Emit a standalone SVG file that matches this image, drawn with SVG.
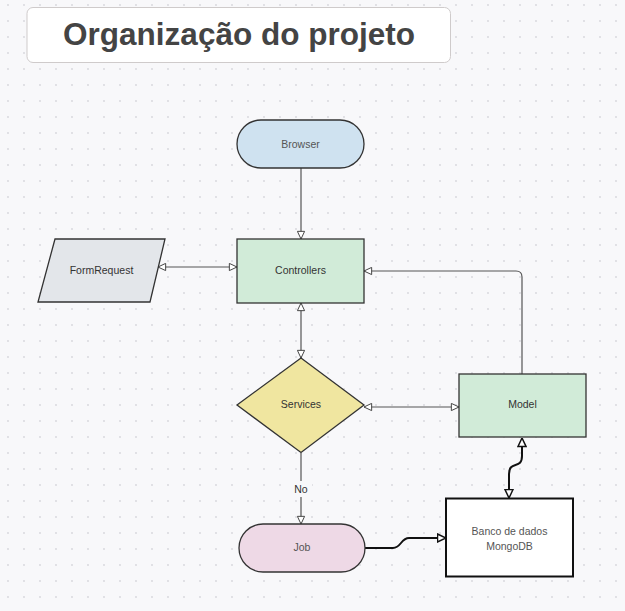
<svg xmlns="http://www.w3.org/2000/svg" width="625" height="611" viewBox="0 0 625 611">
<defs>
<pattern id="dots" patternUnits="userSpaceOnUse" x="0" y="0" width="16" height="16">
<circle cx="8" cy="5" r="0.9" fill="#d6d6dc"/>
</pattern>
<marker id="ah" markerUnits="userSpaceOnUse" viewBox="0 0 10 10" refX="9.5" refY="5" markerWidth="9" markerHeight="9" orient="auto-start-reverse">
<path d="M1,1 L9.5,5 L1,9 Z" fill="#ffffff" stroke="#444" stroke-width="1.1"/>
</marker>
<marker id="ahb" markerUnits="userSpaceOnUse" viewBox="0 0 10 10" refX="9.5" refY="5" markerWidth="10" markerHeight="10" orient="auto-start-reverse">
<path d="M1,1 L9.5,5 L1,9 Z" fill="#ffffff" stroke="#111" stroke-width="1.5"/>
</marker>
<style>
.node{stroke:#333;stroke-width:1.3}
.lbl{font-family:"Liberation Sans",Arial,sans-serif;font-size:10.5px;fill:#333;text-anchor:middle;dominant-baseline:central}
.con{fill:none;stroke:#555;stroke-width:1.2}
.conb{fill:none;stroke:#111;stroke-width:2}
</style>
</defs>
<rect width="625" height="611" fill="#f8f8fa"/>
<rect width="625" height="611" fill="url(#dots)"/>

<g id="title">
<rect x="27" y="7.5" width="423.5" height="55" rx="6" fill="#ffffff" stroke="#cfcbcb" stroke-width="1"/>
<text x="239" y="45" font-family="Liberation Sans,Arial,sans-serif" font-weight="bold" font-size="31.5" fill="#444" text-anchor="middle">Organização do projeto</text>
</g>

<g id="connectors">
<path class="con" d="M301,168 L301,239" marker-end="url(#ah)"/>
<path class="con" d="M158,267 L237,267" marker-start="url(#ah)" marker-end="url(#ah)"/>
<path class="con" d="M301,303 L301,358" marker-start="url(#ah)" marker-end="url(#ah)"/>
<path class="con" d="M364,407 L459,407" marker-start="url(#ah)" marker-end="url(#ah)"/>
<path class="con" d="M522,374 L522,277 Q522,271 516,271 L364,271" marker-end="url(#ah)"/>
<path class="con" d="M301,453 L301,524" marker-end="url(#ah)"/>
<rect x="290" y="481" width="22" height="16" fill="#f8f8fa"/>
<text class="lbl" x="301" y="489">No</text>
<path class="conb" d="M522,438 L522,456 C522,470 509,460 509,474 L509,498" marker-start="url(#ahb)" marker-end="url(#ahb)"/>
<path class="conb" d="M365,548 L393,548 C401,548 401,538 409,538 L446,538" marker-end="url(#ahb)"/>
</g>

<g id="browser">
<rect class="node" x="237" y="120" width="127" height="48" rx="24" fill="#cfe2f0"/>
<text class="lbl" x="300.5" y="144" style="fill:#555">Browser</text>
</g>
<g id="controllers">
<rect class="node" x="237" y="239" width="127" height="64" fill="#d1ebd8"/>
<text class="lbl" x="300.5" y="270">Controllers</text>
</g>
<g id="formrequest">
<polygon class="node" points="55,239 165,239 150,302 38,302" fill="#e3e6ea"/>
<text class="lbl" x="101.5" y="270">FormRequest</text>
</g>
<g id="services">
<polygon class="node" points="301,358 364,405 301,452.5 237,405" fill="#f0e6a0"/>
<text class="lbl" x="301" y="404">Services</text>
</g>
<g id="model">
<rect class="node" x="459" y="374" width="127" height="63" fill="#d1ebd8"/>
<text class="lbl" x="522.5" y="404">Model</text>
</g>
<g id="job">
<rect class="node" x="239" y="524" width="126" height="48" rx="24" fill="#eed9e6"/>
<text class="lbl" x="302" y="547" style="fill:#555">Job</text>
</g>
<g id="banco">
<rect x="446" y="498.5" width="127" height="78" fill="#ffffff" stroke="#111" stroke-width="2"/>
<text class="lbl" x="509.5" y="531" style="fill:#555">Banco de dados</text>
<text class="lbl" x="509.5" y="546" style="fill:#555">MongoDB</text>
</g>
</svg>
